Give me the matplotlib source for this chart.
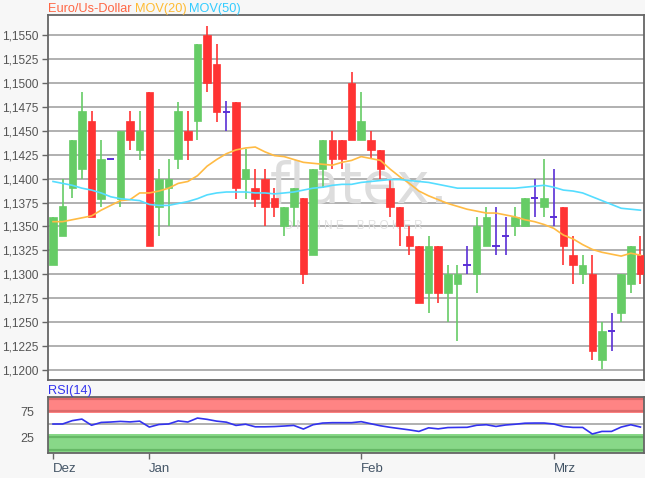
import matplotlib
matplotlib.use("Agg")
import matplotlib.pyplot as plt
import numpy as np

plt.rcParams['font.family'] = ['Liberation Sans', 'DejaVu Sans']

# ---------------- data ----------------
opens = [1.1310, 1.1340, 1.1390, 1.1410, 1.1460, 1.1379, 1.1420, 1.1379, 1.1460, 1.1430,
         1.1491, 1.1370, 1.1390, 1.1420, 1.1450, 1.1460, 1.1550, 1.1520, 1.1470, 1.1480,
         1.1400, 1.1390, 1.1400, 1.1380, 1.1350, 1.1370, 1.1380, 1.1320, 1.1410, 1.1440,
         1.1440, 1.1500, 1.1440, 1.1440, 1.1430, 1.1390, 1.1370, 1.1340, 1.1330, 1.1280,
         1.1330, 1.1280, 1.1290, 1.1310, 1.1300, 1.1330, 1.1330, 1.1340, 1.1350, 1.1350,
         1.1380, 1.1370, 1.1360, 1.1370, 1.1320, 1.1300, 1.1300, 1.1210, 1.1241, 1.1260,
         1.1290, 1.1320]
highs = [1.1360, 1.1400, 1.1440, 1.1490, 1.1471, 1.1440, 1.1420, 1.1450, 1.1471, 1.1471,
         1.1491, 1.1410, 1.1420, 1.1480, 1.1471, 1.1541, 1.1559, 1.1541, 1.1481, 1.1480,
         1.1431, 1.1410, 1.1410, 1.1390, 1.1370, 1.1390, 1.1380, 1.1410, 1.1440, 1.1450,
         1.1440, 1.1511, 1.1491, 1.1450, 1.1430, 1.1400, 1.1370, 1.1350, 1.1330, 1.1340,
         1.1330, 1.1310, 1.1310, 1.1330, 1.1360, 1.1370, 1.1370, 1.1360, 1.1370, 1.1380,
         1.1400, 1.1420, 1.1410, 1.1370, 1.1340, 1.1320, 1.1320, 1.1250, 1.1260, 1.1300,
         1.1330, 1.1340]
lows = [1.1310, 1.1340, 1.1380, 1.1400, 1.1360, 1.1370, 1.1420, 1.1370, 1.1430, 1.1419,
        1.1330, 1.1340, 1.1350, 1.1410, 1.1419, 1.1440, 1.1490, 1.1459, 1.1450, 1.1379,
        1.1379, 1.1370, 1.1350, 1.1360, 1.1340, 1.1350, 1.1290, 1.1320, 1.1390, 1.1410,
        1.1410, 1.1440, 1.1440, 1.1420, 1.1400, 1.1360, 1.1330, 1.1320, 1.1270, 1.1260,
        1.1270, 1.1250, 1.1230, 1.1300, 1.1280, 1.1330, 1.1320, 1.1320, 1.1340, 1.1350,
        1.1360, 1.1360, 1.1350, 1.1310, 1.1290, 1.1290, 1.1210, 1.1201, 1.1220, 1.1250,
        1.1280, 1.1290]
closes = [1.1360, 1.1371, 1.1440, 1.1471, 1.1360, 1.1420, 1.1420, 1.1450, 1.1440, 1.1450,
          1.1330, 1.1400, 1.1400, 1.1471, 1.1440, 1.1541, 1.1500, 1.1470, 1.1470, 1.1390,
          1.1410, 1.1379, 1.1370, 1.1370, 1.1370, 1.1390, 1.1300, 1.1410, 1.1440, 1.1420,
          1.1420, 1.1440, 1.1460, 1.1430, 1.1410, 1.1370, 1.1350, 1.1330, 1.1270, 1.1330,
          1.1280, 1.1300, 1.1300, 1.1310, 1.1350, 1.1360, 1.1330, 1.1340, 1.1360, 1.1380,
          1.1380, 1.1380, 1.1360, 1.1330, 1.1310, 1.1310, 1.1220, 1.1241, 1.1241, 1.1300,
          1.1330, 1.1300]

mov20 = [1.1355, 1.1355, 1.1357, 1.1359, 1.1361, 1.1367, 1.1372, 1.1377, 1.1378, 1.1385,
         1.1385, 1.1387, 1.1390, 1.1395, 1.1397, 1.1403, 1.1413, 1.1420, 1.1426, 1.1430,
         1.1432, 1.1433, 1.1428, 1.1424, 1.1423, 1.1420, 1.1417, 1.1416, 1.1415, 1.1414,
         1.1417, 1.1419, 1.1423, 1.1421, 1.1419, 1.1410, 1.1402, 1.1395, 1.1387, 1.1382,
         1.1378, 1.1374, 1.1371, 1.1368, 1.1366, 1.1364, 1.1364, 1.1362, 1.1360, 1.1357,
         1.1355, 1.1352, 1.1348, 1.1341, 1.1337, 1.1331, 1.1326, 1.1323, 1.1321, 1.1319,
         1.1322, 1.1320]
mov50 = [1.1397, 1.1395, 1.1393, 1.1390, 1.1388, 1.1385, 1.1381, 1.1379, 1.1378, 1.1377,
         1.1373, 1.1372, 1.1372, 1.1374, 1.1376, 1.1379, 1.1383, 1.1385, 1.1386, 1.1386,
         1.1386, 1.1385, 1.1385, 1.1384, 1.1385, 1.1386, 1.1388, 1.1390, 1.1391, 1.1393,
         1.1394, 1.1394, 1.1396, 1.1397, 1.1398, 1.1399, 1.1399, 1.1398, 1.1397, 1.1396,
         1.1394, 1.1392, 1.1390, 1.1390, 1.1390, 1.1390, 1.1390, 1.1390, 1.1390, 1.1391,
         1.1392, 1.1393, 1.1391, 1.1388, 1.1387, 1.1385, 1.1381, 1.1377, 1.1373, 1.1369,
         1.1368, 1.1367]
rsi = [50.4, 50.5, 57, 60, 48, 53.5, 54.3, 55.5, 54.5, 56,
       44.5, 49.5, 50.5, 56.5, 54.3, 62, 59.5, 56, 54, 47.7,
       50, 45, 45, 45.5, 46.5, 47.7, 40.6, 49, 52.3, 53,
       53, 53, 55, 51, 47, 44, 41.5, 39, 36, 43,
       41, 43.5, 43.8, 44, 48, 49, 45.7, 48.5, 50, 52,
       52.3, 52.3, 50.4, 45.5, 43.8, 43.8, 31, 36, 36, 44.5,
       49, 44.5]

price_ticks = [1.1200, 1.1225, 1.1250, 1.1275, 1.1300, 1.1325, 1.1350, 1.1375,
               1.1400, 1.1425, 1.1450, 1.1475, 1.1500, 1.1525, 1.1550]
month_labels = ["Dez", "Jan", "Feb", "Mrz"]
month_pos = [0, 10, 32, 52]
rsi_ticks = [25, 75]

# ---------------- figure ----------------
W, H = 645, 478
fig = plt.figure(figsize=(W / 100, H / 100), dpi=100)
fig.patch.set_facecolor('#f7f7f7')

def ax_rect(l, t, r, b):
    return [l / W, 1 - b / H, (r - l) / W, (b - t) / H]

ax = fig.add_axes(ax_rect(48, 15, 644, 380))
ax.set_facecolor('white')
x = np.arange(len(opens))

GREEN = '#66cc66'
RED = '#ff3333'
DOJI = '#5a2fd6'
bw = 0.78

for i in x:
    o, h, l, c = opens[i], highs[i], lows[i], closes[i]
    if c > o:
        col = GREEN
    elif c < o:
        col = RED
    else:
        col = DOJI
    ax.vlines(i, l, h, color=col, lw=1.2, zorder=3)
    if col == DOJI:
        ax.hlines(o, i - 0.38, i + 0.38, color=col, lw=1.4, zorder=3)
    else:
        ax.bar(i, abs(c - o), bottom=min(o, c), width=bw, color=col,
               edgecolor=col, lw=0.5, zorder=4)

ax.plot(x, mov20, color='#ffbb44', lw=1.2, zorder=5)
ax.plot(x, mov50, color='#55ddff', lw=1.2, zorder=5)

ax.set_xlim(-0.52, 61.37)
ax.set_ylim(1.11895, 1.1571)
ax.set_yticks(price_ticks)
ax.set_yticklabels([("%.4f" % v).replace('.', ',') for v in price_ticks],
                   color='#555555', fontsize=8.6)
ax.yaxis.grid(True, color='#b0b0b0', lw=1.4, zorder=1)
ax.set_axisbelow(True)
ax.tick_params(axis='y', length=4, width=1, color='#666666', pad=3)
ax.set_xticks([])
for s in ax.spines.values():
    s.set_color('#666666')
    s.set_linewidth(1.3)

# watermark
ax.text(31.8, 1.13745, "flatex.", fontsize=41, color='#dddddd', ha='center',
        va='baseline', zorder=2, family='DejaVu Sans')
ax.text(31.2, 1.1350, "O N L I N E    B R O K E R", fontsize=8.5, color='#e2e2e2',
        ha='center', va='center', zorder=2)

# title
fig.canvas.draw()
r = fig.canvas.get_renderer()
parts = [("Euro/Us-Dollar", '#ff6644'), ("MOV(20)", '#ffbb33'), ("MOV(50)", '#33ccff')]
xpos = 48
for txt, col in parts:
    t = fig.text(xpos / W, 1 - 9 / H, txt, color=col, fontsize=9.2, ha='left', va='center')
    bb = t.get_window_extent(renderer=r)
    xpos += bb.width + 3

# ---------------- RSI panel ----------------
ax2 = fig.add_axes(ax_rect(48, 397, 644, 453))
ax2.set_facecolor('white')
ax2.set_xlim(-0.52, 61.37)
ax2.set_ylim(-6, 103)
ax2.axhspan(72, 103, color='#ff8484', zorder=1, lw=0)
ax2.axhspan(-6, 31, color='#88d888', zorder=1, lw=0)
ax2.axhline(75, color='#dd6a6a', lw=1.6, zorder=2)
ax2.axhline(100, color='#dd6a6a', lw=1.6, zorder=2)
ax2.axhline(25, color='#66b866', lw=1.6, zorder=2)
ax2.axhline(0, color='#66b866', lw=1.6, zorder=2)
ax2.axhline(50, color='#b0b0b0', lw=1.4, zorder=2)
ax2.plot(x, rsi, color='#3333ee', lw=1.2, zorder=4)
ax2.set_yticks(rsi_ticks)
ax2.set_yticklabels([str(v) for v in rsi_ticks], color='#555555', fontsize=9)
ax2.tick_params(axis='y', length=0, pad=10)
ax2.set_xticks(month_pos)
ax2.set_xticklabels(month_labels, color='#445566', fontsize=9.5, ha='left')
ax2.tick_params(axis='x', length=4, width=1, color='#666666', pad=3)
for s in ax2.spines.values():
    s.set_color('#666666')
    s.set_linewidth(1.3)
fig.text(48 / W, 1 - 391 / H, "RSI(14)", color='#3333ee', fontsize=9.2,
         ha='left', va='center')

fig.savefig("out.png", dpi=100, facecolor=fig.get_facecolor())
